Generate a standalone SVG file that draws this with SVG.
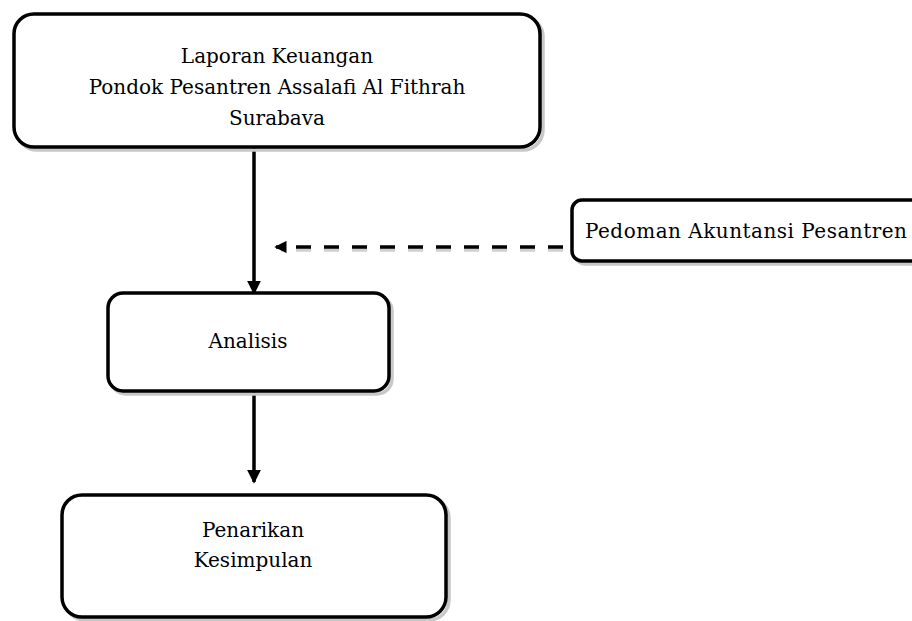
<svg xmlns="http://www.w3.org/2000/svg" width="912" height="621" viewBox="0 0 912 621">
<defs>
<style>
.box{fill:#fff;stroke:#000;stroke-width:3.5}
.sh{fill:none;stroke:#c8c8c8;stroke-width:3.5}
.t{font-family:"DejaVu Serif","Liberation Serif",serif;font-size:20px;fill:#000;text-anchor:middle}
.ln{stroke:#000;stroke-width:3.5;fill:none}
.lsh{stroke:#d0d0d0;stroke-width:3.5;fill:none}
</style>
<marker id="ah" markerWidth="4" markerHeight="4" refX="3.5" refY="2" orient="auto" markerUnits="strokeWidth">
<path d="M0,0 L4,2 L0,4 z" fill="#000"/>
</marker>
<marker id="ah2" markerWidth="3.5" markerHeight="3.5" refX="3" refY="1.75" orient="auto" markerUnits="strokeWidth">
<path d="M0,0 L3.5,1.75 L0,3.5 z" fill="#000"/>
</marker>
</defs>
<rect width="912" height="621" fill="#fff"/>
<g id="connectors">
<path class="lsh" d="M563,250 L281,250" stroke-dasharray="15,13"/>
<path class="ln" d="M563,247 L276,247" stroke-dasharray="15,13" marker-end="url(#ah2)"/>
<path class="ln" d="M254,147 L254,293" marker-end="url(#ah)"/>
<path class="ln" d="M254,391 L254,482" marker-end="url(#ah)"/>
</g>
<g id="n1">
<rect class="sh" x="17" y="17" width="526" height="133" rx="20"/>
<rect class="box" x="14" y="14" width="526" height="133" rx="20"/>
<text class="t" x="277" y="63">Laporan Keuangan</text>
<text class="t" x="277" y="94">Pondok Pesantren Assalafi Al Fithrah</text>
<text class="t" x="277" y="125">Surabava</text>
</g>
<g id="n2">
<rect class="sh" x="575" y="203" width="360" height="61" rx="10"/>
<rect class="box" x="572" y="200" width="360" height="61" rx="10"/>
<text class="t" x="585" y="238" style="text-anchor:start" textLength="322">Pedoman Akuntansi Pesantren</text>
</g>
<g id="n3">
<rect class="sh" x="111" y="296" width="281" height="98" rx="15"/>
<rect class="box" x="108" y="293" width="281" height="98" rx="15"/>
<text class="t" x="248" y="348">Analisis</text>
</g>
<g id="n4">
<rect class="sh" x="65" y="498" width="384" height="122" rx="20"/>
<rect class="box" x="62" y="495" width="384" height="122" rx="20"/>
<text class="t" x="253" y="537">Penarikan</text>
<text class="t" x="253" y="567">Kesimpulan</text>
</g>
</svg>
